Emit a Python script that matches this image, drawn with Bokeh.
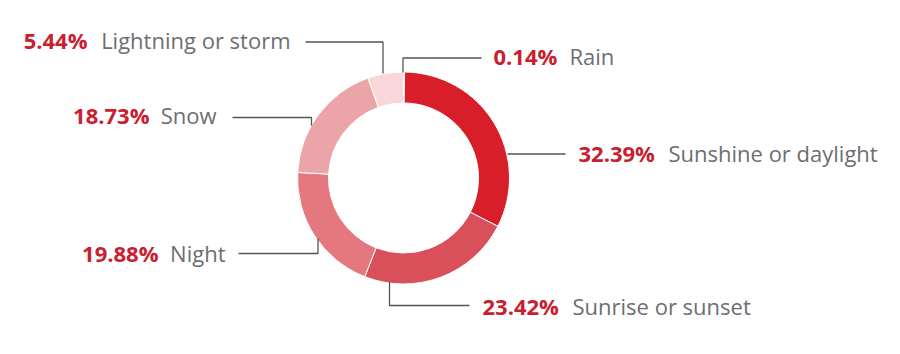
import math
from bokeh.plotting import figure
from bokeh.models import Range1d, ColumnDataSource
from bokeh.core.properties import value
from bokeh.embed import file_html
from bokeh.resources import INLINE

# ---- data ----
categories = ["Rain", "Sunshine or daylight", "Sunrise or sunset", "Night", "Snow", "Lightning or storm"]
shares = [0.14, 32.39, 23.42, 19.88, 18.73, 5.44]
pct_labels = ["0.14%", "32.39%", "23.42%", "19.88%", "18.73%", "5.44%"]

# ---- style / layout ----
colors = ["#C81F2A", "#D81F29", "#D9505A", "#E4787E", "#EBA4A7", "#F8D6D9"]
W, H = 900, 354
CX, CY = 403, 177.5          # ring centre (pixels, y down)
R_OUT, R_IN = 106, 75

def fy(y):                     # pixel y (down) -> data y (up)
    return H - y

# text placement: (pct_x, label_x, baseline_y, align)
text_pos = {
    "Rain": (493, 569, 55, "left"),
    "Sunshine or daylight": (578, 668, 152, "left"),
    "Sunrise or sunset": (482, 572, 305, "left"),
    "Night": (158, 225, 252, "right"),
    "Snow": (149, 216, 114, "right"),
    "Lightning or storm": (87, 290, 39, "right"),
}
# leader-line polylines in pixel coords
leaders = {
    "Rain": [(402.5, 72), (402.5, 57.5), (481, 57.5)],
    "Sunshine or daylight": [(507, 153.5), (565, 153.5)],
    "Sunrise or sunset": [(389, 281), (389, 305), (469, 305)],
    "Night": [(317.5, 238), (317.5, 253), (238, 253)],
    "Snow": [(311, 125), (311, 117), (232, 117)],
    "Lightning or storm": [(382.5, 73), (382.5, 41.5), (305, 41.5)],
}

p = figure(width=W, height=H, output_backend="svg", toolbar_location=None,
           x_range=Range1d(0, W), y_range=Range1d(0, H), min_border=0,
           outline_line_color=None, background_fill_color="white",
           border_fill_color="white")
p.axis.visible = False
p.grid.visible = False

total = sum(shares)
cum = 0.0
starts, ends = [], []
for s in shares:
    a0 = math.pi / 2 - 2 * math.pi * cum / total
    cum += s
    a1 = math.pi / 2 - 2 * math.pi * cum / total
    starts.append(a1)
    ends.append(a0)

src = ColumnDataSource(dict(cat=categories, start=starts, end=ends, color=colors))
p.annular_wedge(x=CX, y=fy(CY), inner_radius=R_IN, outer_radius=R_OUT,
                start_angle="start", end_angle="end", fill_color="color",
                line_color="white", line_width=1, source=src)

xs = [[pt[0] for pt in leaders[c]] for c in categories]
ys = [[fy(pt[1]) for pt in leaders[c]] for c in categories]
p.multi_line(xs=xs, ys=ys, line_color="#555555", line_width=1.3)

FONT = "Open Sans"
SIZE = "22px"
for align in ("left", "right"):
    cats = [c for c in categories if text_pos[c][3] == align]
    pct = ColumnDataSource(dict(
        x=[text_pos[c][0] for c in cats],
        y=[fy(text_pos[c][2]) for c in cats],
        t=[pct_labels[categories.index(c)] for c in cats]))
    lab = ColumnDataSource(dict(
        x=[text_pos[c][1] for c in cats],
        y=[fy(text_pos[c][2]) for c in cats],
        t=cats))
    p.text(x="x", y="y", text="t", source=pct, text_font=value(FONT),
           text_font_size=SIZE, text_font_style="bold", text_color="#C8202E",
           text_align=align, text_baseline="middle")
    p.text(x="x", y="y", text="t", source=lab, text_font=value(FONT),
           text_font_size=SIZE, text_color="#6D6E71",
           text_align=align, text_baseline="middle")

open("out.html", "w").write(file_html(p, INLINE))
